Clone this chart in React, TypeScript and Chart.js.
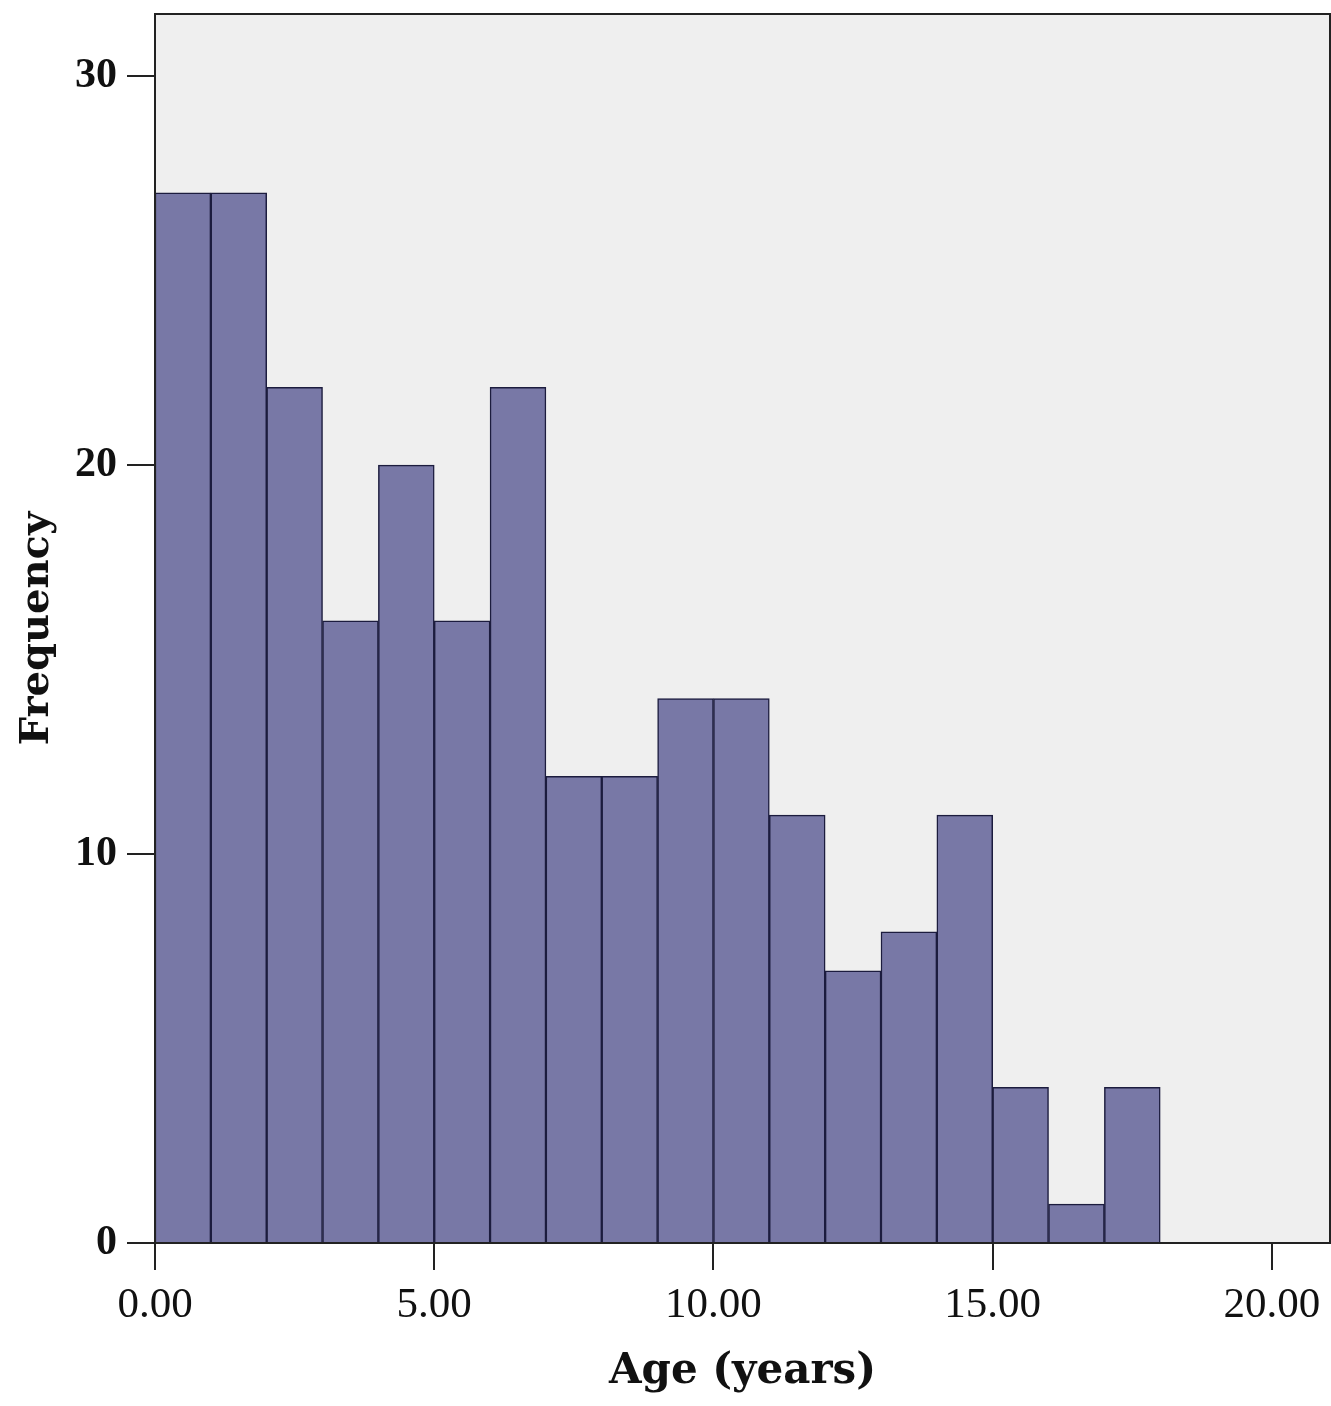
import {useEffect, useRef} from 'react'
import {Chart, registerables} from 'chart.js'
import type {Plugin} from 'chart.js'

Chart.register(...registerables)

// histogram bins: [0,1), [1,2), ... [17,18)
const binStarts = [0, 1, 2, 3, 4, 5, 6, 7, 8, 9, 10, 11, 12, 13, 14, 15, 16, 17]
const frequencies = [27, 27, 22, 16, 20, 16, 22, 12, 12, 14, 14, 11, 7, 8, 11, 4, 1, 4]
const xTicks = [0, 5, 10, 15, 20]
const yTicks = [0, 10, 20, 30]

const width = 1331
const height = 1406

const plotFrame: Plugin<'bar'> = {
    id: 'plotFrame',
    beforeDatasetsDraw(chart) {
        const {ctx, chartArea: a} = chart
        ctx.save()
        ctx.fillStyle = '#efefef'
        ctx.fillRect(a.left, a.top, a.right - a.left, a.bottom - a.top)
        ctx.restore()
    },
    afterDraw(chart) {
        const {ctx, chartArea: a} = chart
        ctx.save()
        ctx.strokeStyle = '#222222'
        ctx.lineWidth = 2
        ctx.strokeRect(a.left, a.top, a.right - a.left, a.bottom - a.top)
        ctx.restore()
    },
}

function App() {
    const canvasRef = useRef<HTMLCanvasElement>(null)

    useEffect(() => {
        document.body.style.margin = '0'
        if (!canvasRef.current) return

        const chart = new Chart(canvasRef.current, {
            type: 'bar',
            data: {
                datasets: [
                    {
                        label: 'Frequency',
                        data: binStarts.map((s, i) => ({x: s + 0.5, y: frequencies[i]})),
                        backgroundColor: '#7878a6',
                        borderColor: '#1c1c3e',
                        borderWidth: 1.5,
                        barPercentage: 1,
                        categoryPercentage: 1,
                    },
                ],
            },
            options: {
                responsive: false,
                animation: false,
                devicePixelRatio: 1,
                layout: {padding: {top: 14, right: 1, bottom: 0, left: 0}},
                plugins: {legend: {display: false}, tooltip: {enabled: false}},
                scales: {
                    x: {
                        type: 'linear',
                        min: 0,
                        max: 21.04,
                        offset: false,
                        grid: {
                            offset: false,
                            drawOnChartArea: false,
                            drawTicks: true,
                            tickLength: 27,
                            tickColor: '#222222',
                            lineWidth: 2,
                        },
                        border: {display: true, color: '#222222', width: 2},
                        afterBuildTicks: (scale) => {
                            scale.ticks = xTicks.map((v) => ({value: v}))
                        },
                        afterFit: (scale) => {
                            scale.height = height - 1243
                            scale.paddingLeft = 0
                            scale.paddingRight = 0
                        },
                        ticks: {
                            color: '#111111',
                            padding: 10,
                            maxRotation: 0,
                            autoSkip: false,
                            font: {family: '"Liberation Serif", serif', size: 43},
                            callback: (value) => Number(value).toFixed(2),
                        },
                        title: {
                            display: true,
                            text: 'Age (years)',
                            color: '#111111',
                            padding: {top: 0, bottom: 9},
                            font: {family: '"DejaVu Serif", serif', size: 42, weight: 'bold'},
                        },
                    },
                    y: {
                        min: 0,
                        max: 31.6,
                        grid: {
                            drawOnChartArea: false,
                            drawTicks: true,
                            tickLength: 28,
                            tickColor: '#222222',
                            lineWidth: 2,
                        },
                        border: {display: true, color: '#222222', width: 2},
                        afterBuildTicks: (scale) => {
                            scale.ticks = yTicks.map((v) => ({value: v}))
                        },
                        afterFit: (scale) => {
                            scale.width = 155
                            scale.paddingTop = 0
                            scale.paddingBottom = 0
                        },
                        ticks: {
                            color: '#111111',
                            padding: 10,
                            font: {family: '"Liberation Serif", serif', size: 42, weight: 'bold'},
                        },
                        title: {
                            display: true,
                            text: 'Frequency',
                            color: '#111111',
                            padding: {top: 14, bottom: 0},
                            font: {family: '"DejaVu Serif", serif', size: 40, weight: 'bold'},
                        },
                    },
                },
            },
            plugins: [plotFrame],
        })

        return () => {
            chart.destroy()
        }
    }, [])

    return (
        <div style={{width, height, background: '#ffffff'}}>
            <canvas ref={canvasRef} width={width} height={height}/>
        </div>
    )
}

export default App
